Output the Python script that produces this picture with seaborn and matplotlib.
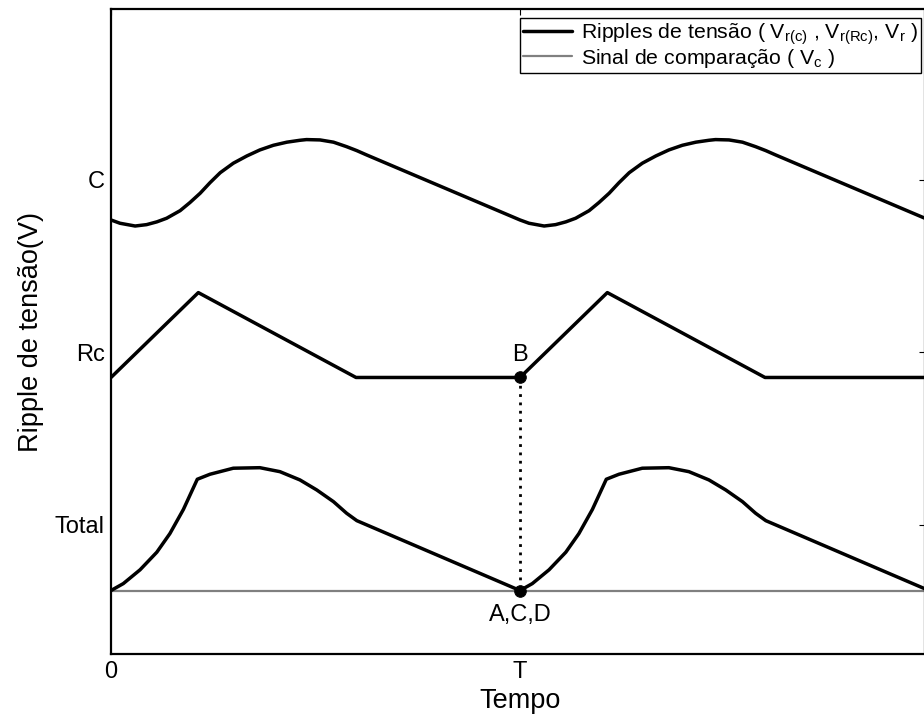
import matplotlib
matplotlib.use("Agg")
import matplotlib.pyplot as plt
import seaborn as sns
import numpy as np
import pandas as pd

# ---------------- data ----------------
# time axis in units of the period T
time_c = [0.000, 0.022, 0.059, 0.087, 0.112, 0.136, 0.169, 0.193, 0.218, 0.242,
          0.267, 0.299, 0.332, 0.364, 0.397, 0.430, 0.462, 0.478, 0.511, 0.544,
          0.576, 0.601, 0.625, 1.000,
          1.022, 1.059, 1.087, 1.112, 1.136, 1.169, 1.193, 1.218, 1.242,
          1.267, 1.299, 1.332, 1.364, 1.397, 1.430, 1.462, 1.478, 1.511, 1.544,
          1.576, 1.601, 1.625, 1.990]
ripple_c = [2.768, 2.749, 2.733, 2.741, 2.757, 2.778, 2.822, 2.869, 2.923, 2.984,
            3.042, 3.097, 3.139, 3.174, 3.201, 3.219, 3.230, 3.234, 3.232, 3.219,
            3.193, 3.170, 3.145, 2.768,
            2.749, 2.733, 2.741, 2.757, 2.778, 2.822, 2.869, 2.923, 2.984,
            3.042, 3.097, 3.139, 3.174, 3.201, 3.219, 3.230, 3.234, 3.232, 3.219,
            3.193, 3.170, 3.145, 2.778]

time_rc = [0.000, 0.2135, 0.599, 1.000, 1.2135, 1.599, 1.990]
ripple_rc = [1.855, 2.347, 1.855, 1.855, 2.347, 1.855, 1.855]

time_tot = [0.000, 0.030, 0.071, 0.112, 0.144, 0.177, 0.211, 0.242, 0.299, 0.364,
            0.413, 0.462, 0.503, 0.544, 0.576, 0.601, 1.000,
            1.030, 1.071, 1.112, 1.144, 1.177, 1.211, 1.242, 1.299, 1.364,
            1.413, 1.462, 1.503, 1.544, 1.576, 1.601, 1.990]
ripple_tot = [0.620, 0.660, 0.740, 0.842, 0.950, 1.090, 1.265, 1.294, 1.329, 1.332,
              1.309, 1.261, 1.203, 1.135, 1.068, 1.025, 0.620,
              0.660, 0.740, 0.842, 0.950, 1.090, 1.265, 1.294, 1.329, 1.332,
              1.309, 1.261, 1.203, 1.135, 1.068, 1.025, 0.630]

time_span = [0.000, 1.990]
comparison = [0.617, 0.617]

event_time = [1.000, 1.000]
event_level = [1.855, 0.620]
event_labels = ["B", "A,C,D"]

xtick_pos = [0, 1]
xtick_labels = ["0", "T"]
ytick_pos = [1, 2, 3]
ytick_labels = ["Total", "Rc", "C"]

legend_ripple = "Ripples de tensão ( V$_{r(c)}$ , V$_{r(Rc)}$, V$_{r}$ )"
legend_comp = "Sinal de comparação ( V$_{c}$ )"

# ---------------- style ----------------
sns.set_style("white")
plt.rcParams["font.family"] = ["Liberation Sans", "DejaVu Sans"]
plt.rcParams["mathtext.default"] = "regular"
plt.rcParams["mathtext.fontset"] = "custom"
plt.rcParams["mathtext.rm"] = "Liberation Sans"
for k in ["text.color", "axes.labelcolor", "xtick.color", "ytick.color",
          "axes.edgecolor"]:
    plt.rcParams[k] = "black"

W, H = 924, 722
fig = plt.figure(figsize=(W / 100, H / 100), dpi=100)
L, R, T_, B_ = 111, 925, 9, 654
ax = fig.add_axes([L / W, 1 - B_ / H, (R - L) / W, (B_ - T_) / H])

lw_main = 2.5
sns.lineplot(x=time_c, y=ripple_c, ax=ax, color="black", lw=lw_main,
             label=legend_ripple, sort=False, estimator=None)
sns.lineplot(x=time_rc, y=ripple_rc, ax=ax, color="black", lw=lw_main,
             sort=False, estimator=None, legend=False)
sns.lineplot(x=time_tot, y=ripple_tot, ax=ax, color="black", lw=lw_main,
             sort=False, estimator=None, legend=False)
sns.lineplot(x=time_span, y=comparison, ax=ax, color="#808080", lw=1.6,
             label=legend_comp, sort=False, estimator=None)
ax.lines[-1].set_zorder(1)
sns.lineplot(x=event_time, y=event_level, ax=ax, color="black", lw=2.0,
             linestyle=(0, (1, 2.0)), sort=False, estimator=None, legend=False)
sns.scatterplot(x=event_time, y=event_level, ax=ax, color="black", s=70,
                edgecolor="black", zorder=5, legend=False)

ax.text(event_time[0], event_level[0] + 0.13, event_labels[0], ha="center",
        va="center", fontsize=17)
ax.text(event_time[1], event_level[1] - 0.14, event_labels[1], ha="center",
        va="center", fontsize=17)

ax.set_xlim(0, (R - L) / 409)
ax.set_ylim(0.252, 3.991)
ax.set_xticks(xtick_pos)
ax.set_xticklabels(xtick_labels)
ax.set_yticks(ytick_pos)
ax.set_yticklabels(ytick_labels)
ax.tick_params(axis="both", direction="in", length=4, width=0.8, color="black",
               labelsize=17, top=True, right=True, labelcolor="black")
ax.tick_params(axis="x", pad=5)
ax.tick_params(axis="y", pad=4.5)

for s in ax.spines.values():
    s.set_color("black")
    s.set_linewidth(1.6)

ax.set_xlabel("Tempo", fontsize=19.5, color="black")
ax.set_ylabel("Ripple de tensão(V)", fontsize=19.5, color="black")
ax.xaxis.set_label_coords((520 - L) / (R - L), (B_ - 688) / (B_ - T_))
ax.yaxis.set_label_coords((44 - L) / (R - L), 0.5)

leg = ax.legend(loc="upper right",
                bbox_to_anchor=((921 - L) / (R - L), (B_ - 18) / (B_ - T_)),
                borderaxespad=0, fontsize=15.3, frameon=True, fancybox=False,
                framealpha=1, edgecolor="black", handlelength=2.3,
                handletextpad=0.4, labelspacing=0.0, borderpad=0.15)
leg.get_frame().set_linewidth(1.0)
for t in leg.get_texts():
    t.set_color("black")

fig.savefig("out.png", dpi=100)
